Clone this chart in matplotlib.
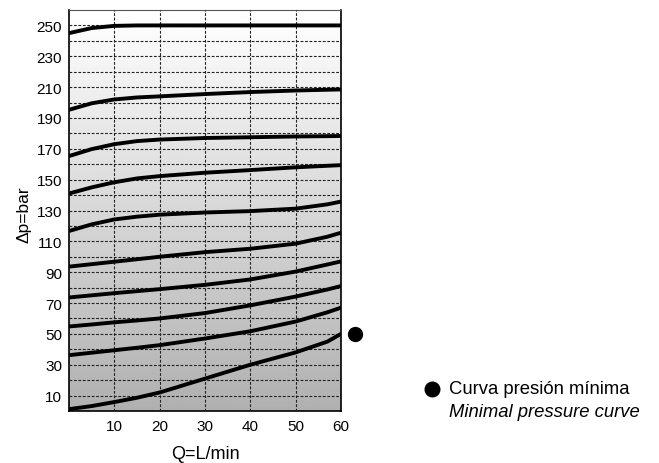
import numpy as np
import matplotlib
matplotlib.use("Agg")
from matplotlib import pyplot as plt
from matplotlib.lines import Line2D

plt.rcParams['font.family'] = ['Liberation Sans', 'DejaVu Sans']

# caudal Q (L/min)
q = [0, 5, 10, 15, 20, 30, 40, 50, 57, 60]

# curvas de presion (bar), de arriba a abajo
p250 = [245, 248.3, 249.7, 250, 250, 250, 250, 250, 250, 250]
p210 = [195.3, 199.5, 202, 203.3, 204, 205.5, 206.8, 207.8, 208.3, 208.5]
p180 = [165.3, 169.8, 173, 175, 176, 177, 177.5, 178, 178.2, 178.3]
p160 = [141, 145, 148.3, 150.8, 152.3, 154.5, 156.2, 158, 159, 159.4]
p135 = [116.7, 121, 124.2, 126, 127.3, 128.7, 129.6, 131.2, 134, 135.8]
p115 = [93.6, 95.2, 96.8, 98.4, 100, 103, 105.2, 108.5, 113, 115.6]
p97 = [73.6, 75, 76.4, 77.7, 79, 81.8, 85.3, 90.4, 95, 97]
p81 = [54.8, 56.1, 57.5, 58.7, 60, 63.5, 68.5, 74.2, 78.8, 81]
p67 = [36.2, 37.8, 39.4, 41, 42.7, 47, 51.7, 58, 64, 67]
pmin = [1.2, 3.2, 5.8, 8.6, 12, 21, 30, 38, 45, 50]
curves = [p250, p210, p180, p160, p135, p115, p97, p81, p67, pmin]

# punto de presion minima
min_q = 63
min_p = 50

x_ticks = [10, 20, 30, 40, 50, 60]
y_ticks = list(range(10, 251, 20))
y_minor = list(range(20, 241, 20))

fig = plt.figure(figsize=(6.59, 4.64), dpi=100)
ax = fig.add_axes([69 / 659, 52 / 464, 272 / 659, 401 / 464])

xmin, xmax = 0, 60
ymin, ymax = 0, 260

# fondo degradado blanco -> gris
grad = np.linspace(0.69, 1.0, 256).reshape(-1, 1)
ax.imshow(grad, cmap='gray', vmin=0, vmax=1, aspect='auto', origin='lower',
          extent=[xmin, xmax, ymin, ymax], zorder=0)

ax.set_xlim(xmin, xmax)
ax.set_ylim(ymin, ymax)
ax.set_xticks(x_ticks)
ax.set_yticks(y_ticks)
ax.set_yticks(y_minor, minor=True)
ax.tick_params(which='both', length=0, labelsize=11)
ax.tick_params(axis='x', pad=5.5)
ax.tick_params(axis='y', pad=5)

ax.grid(True, which='both', color='#222222', linestyle=(0, (2.5, 1.5)), linewidth=0.8, zorder=1)
ax.set_axisbelow(False)

for c in curves:
    ax.plot(q, c, color='black', linewidth=2.8, solid_capstyle='butt', zorder=3)

ax.plot([min_q], [min_p], 'o', color='black', markersize=10, clip_on=False, zorder=4)

for s in ['left', 'bottom', 'right']:
    ax.spines[s].set_color('black')
    ax.spines[s].set_linewidth(1.2)
ax.spines['top'].set_color('#555555')
ax.spines['top'].set_linewidth(0.8)

ax.set_xlabel('Q=L/min', fontsize=13, va='center')
ax.xaxis.set_label_coords((205 - 69) / 272, (412 - 455) / 401)
ax.set_ylabel('\u0394p=bar', fontsize=12.5, va='center')
ax.yaxis.set_label_coords((24 - 69) / 272, (412 - 215) / 401)

# leyenda
fig.add_artist(Line2D([431.5 / 659], [1 - 390 / 464], marker='o', color='black',
                      markersize=10.5, linestyle='none'))
fig.text(449 / 659, 1 - 390 / 464, 'Curva presión mínima', fontsize=13.3, ha='left', va='center')
fig.text(449 / 659, 1 - 412.5 / 464, 'Minimal pressure curve', fontsize=13.3, style='italic',
         ha='left', va='center')

fig.savefig('out.png', dpi=100)
